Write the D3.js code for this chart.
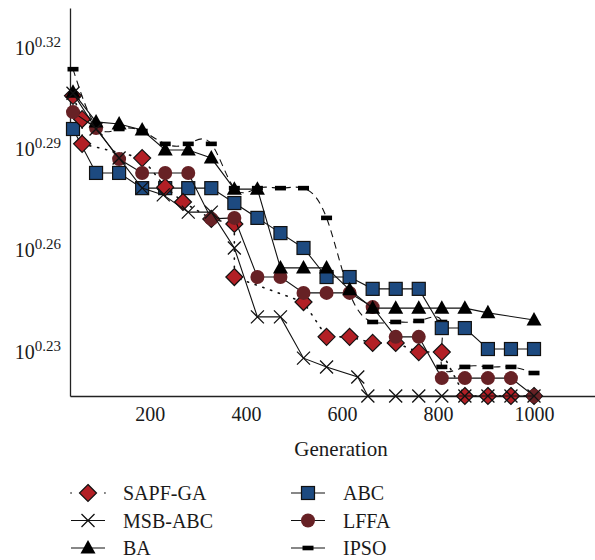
<!DOCTYPE html>
<html>
<head>
<meta charset="utf-8">
<script src="https://cdn.jsdelivr.net/npm/d3@7"></script>
<style>
  body { margin: 0; background: #fff; }
  svg text { font-family: "Liberation Serif", "Times New Roman", serif !important; fill: #1a1a1a; }
</style>
</head>
<body>
<div id="chart"></div>
<script>
// generations at which each algorithm was sampled
var genGrid = [40, 88, 136, 184, 232, 280, 328, 376, 424, 472, 520, 568, 616, 664, 712, 760, 808, 856, 904, 952, 1000];
var sapfGen = [40, 59, 59, 184, 232, 269, 328, 376, 376, 520, 568, 616, 664, 712, 760, 808, 856, 904, 952, 1000];
var msbGen = [40, 88, 136, 184, 228, 280, 328, 376, 424, 472, 520, 568, 633, 654, 712, 760, 808, 856, 904, 952, 1000];
var ipsoGen = [40, 88, 136, 184, 232, 280, 328, 376, 424, 472, 520, 568, 616, 664, 712, 760, 808, 808, 856, 904, 952, 1000];

// best fitness, as log10 (axis shows 10^x)
var sapfLog = [0.3057, 0.2988, 0.2915, 0.2873, 0.2787, 0.2743, 0.2693, 0.2678, 0.2521, 0.2447, 0.2344, 0.2344, 0.2326, 0.2326, 0.2299, 0.2299, 0.2169, 0.2169, 0.2169, 0.2169];
var msbLog = [0.3065, 0.2959, 0.2873, 0.2784, 0.2764, 0.2713, 0.2713, 0.2607, 0.2403, 0.2403, 0.2281, 0.2255, 0.2225, 0.2169, 0.2169, 0.2169, 0.2169, 0.2169, 0.2169, 0.2169, 0.2169];
var baLog = [0.3068, 0.2980, 0.2974, 0.2956, 0.2897, 0.2897, 0.2873, 0.2781, 0.2781, 0.2548, 0.2548, 0.2548, 0.2483, 0.2429, 0.2429, 0.2429, 0.2429, 0.2429, 0.2415, null, 0.2394];
var abcLog = [0.2959, 0.2829, 0.2829, 0.2784, 0.2784, 0.2784, 0.2784, 0.2740, 0.2696, 0.2651, 0.2607, 0.2521, 0.2521, 0.2486, 0.2486, 0.2486, 0.2370, 0.2370, 0.2308, 0.2308, 0.2308];
var lffaLog = [0.3009, 0.2962, 0.2870, 0.2829, 0.2829, 0.2829, 0.2693, 0.2696, 0.2521, 0.2521, 0.2474, 0.2474, 0.2474, 0.2432, 0.2344, 0.2344, 0.2222, 0.2222, 0.2222, 0.2222, 0.2169];
var ipsoLog = [0.3136, 0.2968, 0.2959, 0.2953, 0.2915, 0.2915, 0.2915, 0.2784, 0.2784, 0.2784, 0.2784, 0.2696, 0.2474, 0.2388, 0.2388, 0.2391, 0.2388, 0.2255, 0.2255, 0.2255, 0.2255, 0.2237];

var xTicks = [200, 400, 600, 800, 1000];
var yTicks = ["0.23", "0.26", "0.29", "0.32"];

(function() {
  var width = 595;
  var height = 560;

  var svg = d3
    .select("#chart")
    .append("svg")
    .attr("width", width)
    .attr("height", height);

  var x = d3.scaleLinear().domain([33.75, 1127]).range([70, 595]);
  var y = d3.scaleLinear().domain([0.2169, 0.3317]).range([396, 8]);

  // axes
  var xAxis = svg
    .append("g")
    .attr("transform", "translate(0,396)")
    .call(
      d3.axisBottom(x)
        .tickValues(xTicks)
        .tickFormat(d3.format("d"))
        .tickSize(0)
        .tickSizeOuter(0)
        .tickPadding(11)
    );
  xAxis.select(".domain").attr("stroke", "#222").attr("stroke-width", 1.3);
  xAxis.selectAll("text").attr("font-size", 20);

  var yAxis = svg
    .append("g")
    .attr("transform", "translate(70,0)")
    .call(d3.axisLeft(y).tickValues(yTicks.map(Number)).tickSize(0).tickSizeOuter(0).tickFormat(""));
  yAxis.select(".domain").attr("stroke", "#222").attr("stroke-width", 1.3);

  // 10^x labels
  yTicks.forEach(function(t) {
    var lab = svg
      .append("text")
      .attr("x", 61)
      .attr("y", y(+t) + 7)
      .attr("text-anchor", "end")
      .attr("font-size", 20);
    lab.append("tspan").text("10");
    lab.append("tspan").attr("font-size", 15).attr("dy", -8).text(t);
  });

  svg
    .append("text")
    .attr("x", 341)
    .attr("y", 456)
    .attr("text-anchor", "middle")
    .attr("font-size", 21)
    .text("Generation");

  function points(gens, vals) {
    var out = [];
    for (var i = 0; i < gens.length; i++) {
      if (vals[i] != null) out.push({ g: gens[i], v: vals[i] });
    }
    return out;
  }

  // marker shapes, centered at 0,0
  var shapes = {
    diamond: function(g) {
      g.append("path")
        .attr("d", "M0,-8.5L8.5,0L0,8.5L-8.5,0Z")
        .attr("fill", "#b21f25")
        .attr("stroke", "#111")
        .attr("stroke-width", 1.2);
    },
    cross: function(g) {
      g.append("path")
        .attr("d", "M-6.5,-6.5L6.5,6.5M-6.5,6.5L6.5,-6.5")
        .attr("stroke", "#111")
        .attr("stroke-width", 1.3)
        .attr("fill", "none");
    },
    triangle: function(g) {
      g.append("path").attr("d", "M0,-8L7.5,5.5L-7.5,5.5Z").attr("fill", "#000");
    },
    square: function(g) {
      g.append("rect")
        .attr("x", -6.5)
        .attr("y", -6.5)
        .attr("width", 13)
        .attr("height", 13)
        .attr("fill", "#1d4a80")
        .attr("stroke", "#111")
        .attr("stroke-width", 1.2);
    },
    circle: function(g) {
      g.append("circle").attr("r", 7).attr("fill", "#672125");
    },
    bar: function(g) {
      g.append("rect")
        .attr("x", -5.5)
        .attr("y", -2.3)
        .attr("width", 11)
        .attr("height", 4.6)
        .attr("fill", "#000");
    }
  };

  var series = [
    { name: "IPSO", data: points(ipsoGen, ipsoLog), shape: "bar", dash: "7,5", curve: d3.curveNatural },
    { name: "ABC", data: points(genGrid, abcLog), shape: "square", dash: null, curve: d3.curveLinear },
    { name: "SAPF-GA", data: points(sapfGen, sapfLog), shape: "diamond", dash: "1.2,7", curve: d3.curveLinear },
    { name: "LFFA", data: points(genGrid, lffaLog), shape: "circle", dash: null, curve: d3.curveLinear },
    { name: "BA", data: points(genGrid, baLog), shape: "triangle", dash: null, curve: d3.curveLinear },
    { name: "MSB-ABC", data: points(msbGen, msbLog), shape: "cross", dash: null, curve: d3.curveLinear }
  ];

  series.forEach(function(s) {
    var line = d3
      .line()
      .x(function(d) { return x(d.g); })
      .y(function(d) { return y(d.v); })
      .curve(s.curve);

    svg
      .append("path")
      .datum(s.data)
      .attr("d", line)
      .attr("fill", "none")
      .attr("stroke", "#111")
      .attr("stroke-width", s.dash === "1.2,7" ? 1.6 : 1.1)
      .attr("stroke-linecap", s.dash === "1.2,7" ? "round" : "butt")
      .attr("stroke-dasharray", s.dash);

    svg
      .selectAll(".m-" + s.shape)
      .data(s.data)
      .enter()
      .append("g")
      .attr("class", "m-" + s.shape)
      .attr("transform", function(d) {
        return "translate(" + x(d.g) + "," + y(d.v) + ")";
      })
      .each(function() {
        shapes[s.shape](d3.select(this));
      });
  });

  // legend
  var legend = [
    { name: "SAPF-GA", shape: "diamond", dotted: true, col: 0, row: 0 },
    { name: "MSB-ABC", shape: "cross", dotted: false, col: 0, row: 1 },
    { name: "BA", shape: "triangle", dotted: false, col: 0, row: 2 },
    { name: "ABC", shape: "square", dotted: false, col: 1, row: 0 },
    { name: "LFFA", shape: "circle", dotted: false, col: 1, row: 1 },
    { name: "IPSO", shape: "bar", dotted: false, col: 1, row: 2 }
  ];

  var items = svg
    .selectAll(".legend")
    .data(legend)
    .enter()
    .append("g")
    .attr("class", "legend")
    .attr("transform", function(d) {
      return "translate(" + (d.col * 220 + 71) + "," + (493 + d.row * 27.5) + ")";
    });

  items
    .append("line")
    .attr("x1", 0)
    .attr("x2", 34)
    .attr("stroke", "#111")
    .attr("stroke-width", function(d) { return d.dotted ? 1.6 : 1.1; })
    .attr("stroke-linecap", function(d) { return d.dotted ? "round" : "butt"; })
    .attr("stroke-dasharray", function(d) { return d.dotted ? "0.1,33.8" : null; });

  items
    .append("g")
    .attr("transform", "translate(17,0)")
    .each(function(d) {
      shapes[d.shape](d3.select(this));
    });

  items
    .append("text")
    .attr("x", 52)
    .attr("y", 7)
    .attr("font-size", 20)
    .text(function(d) { return d.name; });
})();
</script>
</body>
</html>
